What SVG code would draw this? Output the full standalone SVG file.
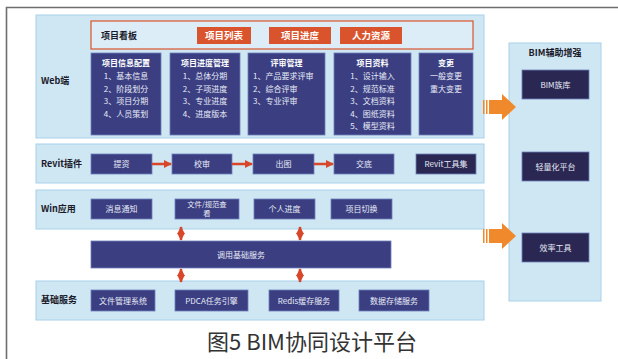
<svg xmlns="http://www.w3.org/2000/svg" width="618" height="359" viewBox="0 0 618 359">
<defs>
<style>
.panel{fill:#cfe6f3;stroke:#a8d2ea;stroke-width:1}
.box{fill:#3b3f82;stroke:#6f7fb8;stroke-width:0.8}
.dark{fill:#2a2853;stroke:#6f7fb8;stroke-width:0.8}
.tab{fill:#d9542c}
.t{font-family:"Noto Sans CJK SC","Noto Sans",sans-serif;font-size:8px;fill:#ffffff;text-anchor:middle;font-weight:bold}
.tl{font-family:"Noto Sans CJK SC","Noto Sans",sans-serif;font-size:8px;fill:#e8ebf6;text-anchor:middle}
.tab-t{font-family:"Noto Sans CJK SC","Noto Sans",sans-serif;font-size:9.5px;fill:#ffffff;text-anchor:middle;font-weight:bold}
.lab{font-family:"Noto Sans CJK SC","Noto Sans",sans-serif;font-size:9px;fill:#1a1a2a;font-weight:bold}
.cap{font-family:"Noto Sans CJK SC","Noto Sans",sans-serif;font-size:22px;fill:#333333}
.ra{stroke:#d9472b;stroke-width:2.5;fill:none}
</style>
<marker id="ah" viewBox="0 0 10 10" refX="9" refY="5" markerWidth="3.2" markerHeight="3.2" orient="auto-start-reverse" markerUnits="strokeWidth">
<path d="M0,0 L10,5 L0,10 z" fill="#d9472b"/>
</marker>
</defs>

<!-- frame -->
<path d="M618,7.5 H6.5 V359" fill="none" stroke="#6e6e6e" stroke-width="1.6"/>

<!-- Web panel -->
<g id="web">
<rect class="panel" x="36" y="15" width="448" height="123"/>
<text class="lab" x="41" y="84">Web端</text>
</g>
<g id="board">
<rect x="91" y="21" width="382" height="28" fill="#dcedf7" stroke="#d9542c" stroke-width="1.2"/>
<text class="lab" x="101" y="38.5">项目看板</text>
<rect class="tab" x="197" y="27" width="54" height="17"/>
<text class="tab-t" x="224" y="39">项目列表</text>
<rect class="tab" x="269" y="27" width="62" height="17"/>
<text class="tab-t" x="300" y="39">项目进度</text>
<rect class="tab" x="340" y="27" width="62" height="17"/>
<text class="tab-t" x="371" y="39">人力资源</text>
</g>
<g id="info">
<rect class="box" x="91" y="53" width="70" height="82"/>
<text class="t" x="126" y="66">项目信息配置</text>
<text class="tl" x="126" y="79">1、基本信息</text>
<text class="tl" x="126" y="91.5">2、阶段划分</text>
<text class="tl" x="126" y="104">3、项目分期</text>
<text class="tl" x="126" y="116.5">4、人员策划</text>
</g>
<g id="progress">
<rect class="box" x="170" y="53" width="70" height="82"/>
<text class="t" x="205" y="66">项目进度管理</text>
<text class="tl" x="205" y="79">1、总体分期</text>
<text class="tl" x="205" y="91.5">2、子项进度</text>
<text class="tl" x="205" y="104">3、专业进度</text>
<text class="tl" x="205" y="116.5">4、进度版本</text>
</g>
<g id="review">
<rect class="box" x="248" y="53" width="77" height="82"/>
<text class="t" x="286.5" y="66">评审管理</text>
<text class="tl" x="253" y="79" style="text-anchor:start">1、产品要求评审</text>
<text class="tl" x="253" y="91.5" style="text-anchor:start">2、综合评审</text>
<text class="tl" x="253" y="104" style="text-anchor:start">3、专业评审</text>
</g>
<g id="docs">
<rect class="box" x="334" y="53" width="77" height="82"/>
<text class="t" x="372.5" y="66">项目资料</text>
<text class="tl" x="372.5" y="79">1、设计输入</text>
<text class="tl" x="372.5" y="91.5">2、规范标准</text>
<text class="tl" x="372.5" y="104">3、文档资料</text>
<text class="tl" x="372.5" y="116.5">4、图纸资料</text>
<text class="tl" x="372.5" y="129">5、模型资料</text>
</g>
<g id="change">
<rect class="box" x="419" y="53" width="54" height="82"/>
<text class="t" x="446" y="66">变更</text>
<text class="tl" x="446" y="79">一般变更</text>
<text class="tl" x="446" y="91.5">重大变更</text>
</g>

<!-- Revit panel -->
<g id="revit">
<rect class="panel" x="36" y="144" width="448" height="39"/>
<text class="lab" x="41" y="167">Revit插件</text>
</g>
<g id="tizi"><rect class="box" x="91" y="154" width="61" height="20"/><text class="tl" x="121.5" y="167">提资</text></g>
<g id="jiaoshen"><rect class="box" x="172" y="154" width="60" height="20"/><text class="tl" x="202" y="167">校审</text></g>
<g id="chutu"><rect class="box" x="253" y="154" width="61" height="20"/><text class="tl" x="283.5" y="167">出图</text></g>
<g id="jiaodi"><rect class="box" x="334" y="154" width="60" height="20"/><text class="tl" x="364" y="167">交底</text></g>
<g id="revittools"><rect class="dark" x="416" y="154" width="60" height="20"/><text class="tl" x="446" y="167">Revit工具集</text></g>

<!-- Win panel -->
<g id="win">
<rect class="panel" x="36" y="190" width="448" height="39"/>
<text class="lab" x="41" y="212">Win应用</text>
</g>
<g id="msg"><rect class="box" x="91" y="199" width="61" height="20"/><text class="tl" x="121.5" y="212">消息通知</text></g>
<g id="fileview"><rect class="box" x="175" y="199" width="64" height="20"/><text class="tl" x="207" y="206.5" style="font-size:7.3px">文件/规范查</text><text class="tl" x="207" y="216" style="font-size:7.3px">看</text></g>
<g id="personal"><rect class="box" x="254" y="199" width="61" height="20"/><text class="tl" x="284.5" y="212">个人进度</text></g>
<g id="switch"><rect class="box" x="331" y="199" width="61" height="20"/><text class="tl" x="361.5" y="212">项目切换</text></g>

<!-- call base services -->
<g id="callbase"><rect class="box" x="91" y="241" width="300" height="27"/><text class="tl" x="241" y="257.5">调用基础服务</text></g>

<!-- base services panel -->
<g id="base">
<rect class="panel" x="36" y="281" width="448" height="39"/>
<text class="lab" x="41" y="303">基础服务</text>
</g>
<g id="filesys"><rect class="box" x="91" y="290" width="64" height="21"/><text class="tl" x="123" y="303.5">文件管理系统</text></g>
<g id="pdca"><rect class="box" x="175" y="290" width="73" height="21"/><text class="tl" x="211.5" y="303.5">PDCA任务引擎</text></g>
<g id="redis"><rect class="box" x="269" y="290" width="70" height="21"/><text class="tl" x="304" y="303.5">Redis缓存服务</text></g>
<g id="datastore"><rect class="box" x="359" y="290" width="70" height="21"/><text class="tl" x="394" y="303.5">数据存储服务</text></g>

<!-- BIM panel -->
<g id="bim">
<rect class="panel" x="509" y="43" width="92" height="258"/>
<text class="lab" x="555" y="56" style="text-anchor:middle">BIM辅助增强</text>
</g>
<g id="bimlib"><rect class="dark" x="522" y="70" width="67" height="29"/><text class="tl" x="555.5" y="88">BIM族库</text></g>
<g id="light"><rect class="dark" x="522" y="152" width="67" height="29"/><text class="tl" x="555.5" y="170">轻量化平台</text></g>
<g id="eff"><rect class="dark" x="522" y="233" width="67" height="29"/><text class="tl" x="555.5" y="251">效率工具</text></g>

<!-- connectors -->
<g id="connectors">
<line class="ra" x1="152" y1="164" x2="171" y2="164" marker-end="url(#ah)"/>
<line class="ra" x1="232" y1="164" x2="252" y2="164" marker-end="url(#ah)"/>
<line class="ra" x1="314" y1="164" x2="333" y2="164" marker-end="url(#ah)"/>
<line class="ra" x1="181" y1="227" x2="181" y2="240" stroke-width="3" marker-start="url(#ah)" marker-end="url(#ah)"/>
<line class="ra" x1="300" y1="227" x2="300" y2="240" stroke-width="3" marker-start="url(#ah)" marker-end="url(#ah)"/>
<line class="ra" x1="181" y1="269" x2="181" y2="282" stroke-width="3" marker-start="url(#ah)" marker-end="url(#ah)"/>
<line class="ra" x1="300" y1="269" x2="300" y2="282" stroke-width="3" marker-start="url(#ah)" marker-end="url(#ah)"/>
<g fill="#f0892b">
<rect x="483" y="100" width="1.5" height="14"/>
<rect x="486" y="100" width="1.5" height="14"/>
<path d="M489,100 H502 V94 L516,107 L502,120 V114 H489 z"/>
<rect x="483" y="229" width="1.5" height="14"/>
<rect x="486" y="229" width="1.5" height="14"/>
<path d="M489,229 H502 V223 L516,236 L502,249 V243 H489 z"/>
</g>
</g>

<text class="cap" x="312" y="350" text-anchor="middle">图5 BIM协同设计平台</text>
</svg>
